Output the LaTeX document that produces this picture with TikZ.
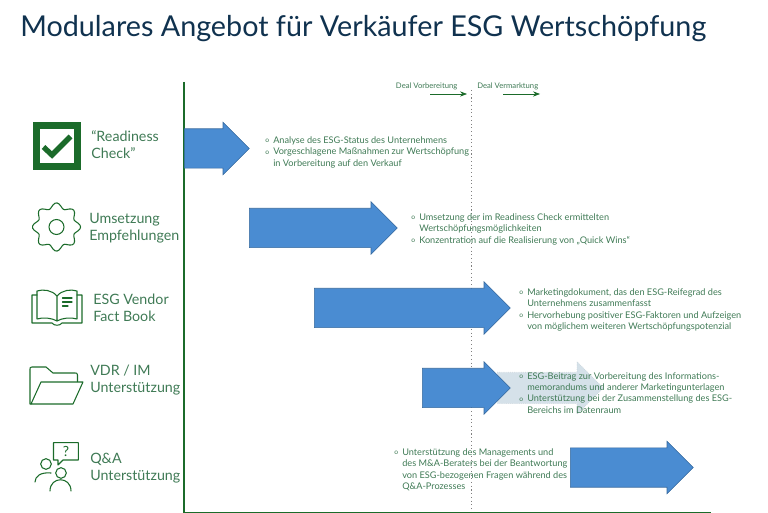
\documentclass[tikz,border=0pt]{standalone}
\usepackage{fontspec}
\setmainfont{Lato}
\usepackage{xcolor}
\usetikzlibrary{shapes.arrows,arrows.meta}
\definecolor{dkgreen}{HTML}{1B6B2A}
\definecolor{txtgreen}{HTML}{3F7A55}
\definecolor{ttlblue}{HTML}{10324F}
\definecolor{arrowblue}{HTML}{4A8CD2}
\definecolor{ghostblue}{HTML}{D5E1E9}
\newcommand{\bul}{\makebox[6pt][l]{\raisebox{0.4pt}{\fontsize{5}{5}\selectfont o}}}
\newcommand{\ind}{\hspace*{6pt}}
\begin{document}
\begin{tikzpicture}[x=0.75pt,y=-0.75pt,
  stage/.style={font=\fontsize{10.7}{13.2}\selectfont, text=txtgreen, align=left, anchor=west, inner sep=0pt},
  block/.style={single arrow, draw=arrowblue!75!black, fill=arrowblue, line width=0.4pt, inner xsep=0pt, inner ysep=14.6pt, anchor=tail,
    minimum width=39pt, single arrow head extend=4.9pt, single arrow tip angle=90},
  ghost/.style={single arrow, draw=ghostblue!80!gray, densely dotted, fill=ghostblue, line width=0.4pt, inner xsep=0pt, inner ysep=11.6pt, anchor=tail,
    minimum width=39pt, single arrow head extend=7.9pt, single arrow tip angle=90},
  note/.style={font=\fontsize{6.88}{8.5}\selectfont, text=txtgreen, align=left, anchor=north west, inner sep=0pt},
  phaselabel/.style={font=\fontsize{5.75}{7}\selectfont, text=txtgreen, anchor=west, inner sep=0pt},
  icon/.style={dkgreen, line width=0.8pt, line join=round, line cap=round},
  phase/.style={-Stealth, dkgreen, line width=0.5pt}
]
\useasboundingbox (0,0) rectangle (768,513);
\node[anchor=west, inner sep=0pt, text=ttlblue, font=\fontsize{21.55}{26}\selectfont] (title) at (20,29) {Modulares Angebot für Verkäufer ESG Wertschöpfung};
% axes
\coordinate (top) at (184,82);
\coordinate (origin) at (184,512.5);
\coordinate (end) at (711,512.5);
\coordinate (divtop) at (471.5,90);
\coordinate (divbot) at (471.5,512);
\draw[dotted, gray, line width=0.8pt] (divtop) -- (divbot);
\draw[dkgreen, line width=1pt] (top) -- (origin) -- (end);
% phases
\node[phaselabel] (prep) at (395.7,86.5) {Deal Vorbereitung};
\node[phaselabel] (mkt) at (477,86.5) {Deal Vermarktung};
\coordinate (prepA) at (430,94);
\coordinate (prepB) at (467,94);
\coordinate (mktA) at (503,94);
\coordinate (mktB) at (540,94);
\draw[phase] (prepA) -- (prepB);
\draw[phase] (mktA) -- (mktB);
% arrows
\node[ghost, minimum height=106*0.75pt] (ghost4) at (497,388) {};
\node[block, minimum height=65*0.75pt] (arr1) at (184,148.5) {};
\node[block, minimum height=148*0.75pt] (arr2) at (249,228) {};
\node[block, minimum height=196*0.75pt] (arr3) at (314,308) {};
\node[block, minimum height=88*0.75pt] (arr4) at (422,388) {};
\node[block, minimum height=123*0.75pt] (arr5) at (570,467.5) {};
% labels
\node[stage] (lab1) at (91,144.5) {“Readiness\\Check”};
\node[stage] (lab2) at (89,228) {Umsetzung\\Empfehlungen};
\node[stage] (lab3) at (93,308) {ESG Vendor\\Fact Book};
\node[stage] (lab4) at (90,380) {VDR / IM\\Unterstützung};
\node[stage] (lab5) at (90,468) {Q\&A\\Unterstützung};
% notes
\node[note] (note1) at (265,136.5) {\bul Analyse des ESG-Status des Unternehmens\\
  \bul Vorgeschlagene Maßnahmen zur Wertschöpfung\\
  \ind in Vorbereitung auf den Verkauf};
\node[note] (note2) at (411,213.5) {\bul Umsetzung der im Readiness Check ermittelten\\
  \ind Wertschöpfungsmöglichkeiten\\
  \bul Konzentration auf die Realisierung von „Quick Wins“};
\node[note] (note3) at (519,288.5) {\bul Marketingdokument, das den ESG-Reifegrad des\\
  \ind Unternehmens zusammenfasst\\
  \bul Hervorhebung positiver ESG-Faktoren und Aufzeigen\\
  \ind von möglichem weiteren Wertschöpfungspotenzial};
\node[note] (note4) at (519,372) {\bul ESG-Beitrag zur Vorbereitung des Informations-\\
  \ind memorandums und anderer Marketingunterlagen\\
  \bul Unterstützung bei der Zusammenstellung des ESG-\\
  \ind Bereichs im Datenraum};
\node[note] (note5) at (394,448.5) {\bul Unterstützung des Managements und\\
  \ind des M\&A-Beraters bei der Beantwortung\\
  \ind von ESG-bezogenen Fragen während des\\
  \ind Q\&A-Prozesses};
% icons
\draw[dkgreen, line width=5pt] (36.5,125.5) rectangle (77.5,166.5);
\draw[dkgreen, line width=4pt] (43.5,147) -- (52,155) -- (70.5,136.5);
\draw[icon] plot[smooth cycle, samples=73, domain=0:355] ({56.5+(21.5+2.6*cos(8*\x))*cos(\x)}, {227+(21.5+2.6*cos(8*\x))*sin(\x)});
\draw[icon] (56.5,227) circle (7.5);
% book
\draw[icon] (37,295) -- (32,295) -- (32,323) -- (52,323) .. controls (54,326) and (60,326) .. (62,323) -- (82,323) -- (82,295) -- (77,295);
\draw[icon] (57,296) .. controls (52,290) and (43,289) .. (37,291) -- (37,319) .. controls (43,317) and (52,318) .. (57,321) .. controls (62,318) and (71,317) .. (77,319) -- (77,291) .. controls (71,289) and (62,290) .. (57,296) -- (57,321);
\draw[icon] (62.5,298) -- (72,298) (62.5,302) -- (72,302) (62.5,306) -- (68,306);
% folder
\draw[icon] (31,404) -- (30,404) -- (30,369) .. controls (30,367.5) .. (32,367) -- (46,367) -- (53,373) -- (75,373) .. controls (77,373) .. (77.5,375) -- (77.5,381.5);
\draw[icon] (31,404) -- (41,382) -- (83,382) -- (73,404) -- cycle;
% people with question
\draw[icon] (58,460) -- (53.5,460) -- (53.5,442.7) -- (78.3,442.7) -- (78.3,460) -- (63,460) -- (58,465) -- cycle;
\node[inner sep=0pt, text=dkgreen, font=\fontsize{10.5}{12}\selectfont] (quest) at (66,451.5) {?};
\draw[icon] (46,464) circle (5.3);
\draw[icon] (61,473) circle (5.3);
\draw[icon] (35,482) .. controls (35,476) and (41,472) .. (51,473);
\draw[icon] (50,491) .. controls (50,476) and (71,476) .. (71,491);
\end{tikzpicture}
\end{document}
